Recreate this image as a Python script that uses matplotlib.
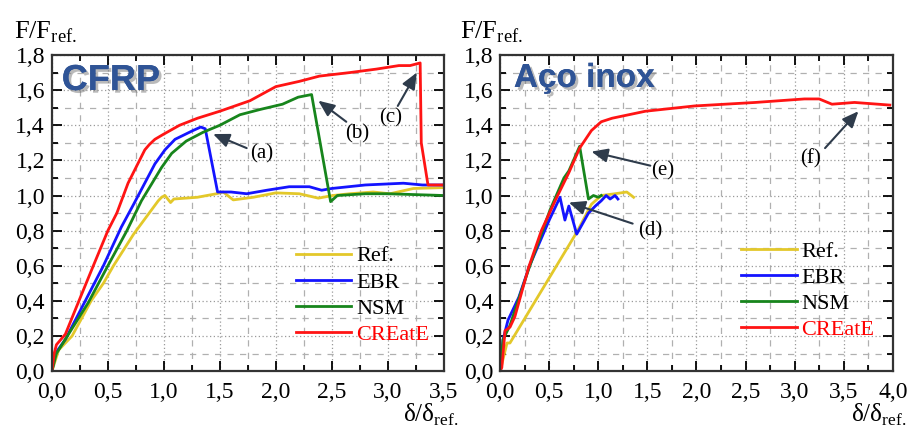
import matplotlib
matplotlib.use("Agg")
import matplotlib.pyplot as plt
import matplotlib.patheffects as pe
from matplotlib.ticker import MultipleLocator, FuncFormatter

plt.rcParams['font.family'] = ['Liberation Serif', 'DejaVu Serif']
plt.rcParams['mathtext.fontset'] = 'custom'
plt.rcParams['mathtext.rm'] = 'Liberation Serif'

# --- CFRP panel ---
cfrp_ref_x = [0, 0.06, 0.18, 0.35, 0.46, 0.55, 0.73, 0.95, 0.98, 1.01, 1.06, 1.09, 1.3, 1.47,
              1.53, 1.62, 1.8, 2.0, 2.21, 2.38, 2.51, 2.66, 2.87, 3.02, 3.23, 3.5]
cfrp_ref_y = [0, 0.12, 0.2, 0.4, 0.5, 0.6, 0.78, 0.97, 0.99, 1.0, 0.96, 0.98, 0.99, 1.01,
              1.02, 0.975, 0.99, 1.015, 1.01, 0.985, 1.0, 1.01, 1.02, 1.01, 1.04, 1.045]

cfrp_ebr_x = [0, 0.03, 0.12, 0.29, 0.46, 0.62, 0.73, 0.92, 1.01, 1.1, 1.26, 1.33, 1.37, 1.48,
              1.6, 1.74, 1.92, 2.12, 2.3, 2.41, 2.5, 2.8, 3.14, 3.31, 3.5]
cfrp_ebr_y = [0, 0.1, 0.18, 0.39, 0.6, 0.82, 0.95, 1.18, 1.26, 1.32, 1.37, 1.39, 1.38, 1.02,
              1.02, 1.01, 1.03, 1.05, 1.05, 1.03, 1.04, 1.06, 1.07, 1.06, 1.06]

cfrp_nsm_x = [0, 0.04, 0.325, 0.5, 0.67, 0.8, 0.98, 1.07, 1.2, 1.35, 1.5, 1.68, 1.86, 2.06,
              2.2, 2.32, 2.49, 2.55, 2.8, 3.0, 3.5]
cfrp_nsm_y = [0, 0.1, 0.39, 0.6, 0.8, 0.97, 1.16, 1.24, 1.31, 1.36, 1.4, 1.46, 1.49, 1.52,
              1.56, 1.575, 0.965, 1.0, 1.01, 1.01, 1.0]

cfrp_create_x = [0, 0.02, 0.04, 0.12, 0.235, 0.37, 0.5, 0.58, 0.68, 0.83, 0.87, 0.92, 1.0, 1.14, 1.3, 1.5,
                 1.77, 2.0, 2.21, 2.39, 2.66, 2.9, 3.1, 3.2, 3.29, 3.30, 3.36, 3.5]
cfrp_create_y = [0, 0.1, 0.15, 0.21, 0.39, 0.6, 0.8, 0.9, 1.07, 1.26, 1.29, 1.32, 1.35, 1.4, 1.44, 1.48,
                 1.54, 1.62, 1.65, 1.68, 1.70, 1.72, 1.74, 1.74, 1.755, 1.30, 1.06, 1.06]

# --- Aço inox panel ---
inox_ref_x = [0, 0.07, 0.1, 0.78, 0.93, 1.03, 1.17, 1.29, 1.36]
inox_ref_y = [0, 0.16, 0.16, 0.79, 0.95, 1.0, 1.01, 1.02, 0.99]

inox_ebr_x = [0, 0.03, 0.08, 0.19, 0.3, 0.5, 0.61, 0.66, 0.70, 0.78, 0.90, 0.97, 1.03, 1.08, 1.12, 1.17, 1.2]
inox_ebr_y = [0, 0.18, 0.29, 0.42, 0.6, 0.86, 0.99, 0.86, 0.94, 0.78, 0.90, 0.94, 0.97, 1.0, 0.98, 1.0, 0.98]

inox_nsm_x = [0, 0.03, 0.1, 0.29, 0.51, 0.65, 0.70, 0.81, 0.90, 0.95, 1.0, 1.03]
inox_nsm_y = [0, 0.18, 0.26, 0.58, 0.92, 1.1, 1.14, 1.28, 0.98, 1.0, 0.99, 1.0]

inox_create_x = [0, 0.017, 0.05, 0.10, 0.15, 0.29, 0.42, 0.56, 0.70, 0.81, 0.93, 1.03, 1.14, 1.31, 1.48,
                 1.98, 2.6, 3.1, 3.25, 3.38, 3.61, 3.97]
inox_create_y = [0, 0.02, 0.23, 0.25, 0.31, 0.59, 0.80, 0.97, 1.13, 1.27, 1.37, 1.42, 1.44, 1.46, 1.48,
                 1.51, 1.53, 1.55, 1.55, 1.52, 1.53, 1.515]

labels = ['Ref.', 'EBR', 'NSM', 'CREatE']
colors = ['#e3c82a', '#1414ff', '#17851c', '#ff1414']

# annotation: label, text position, arrow tail, arrow head
cfrp_notes = [('(a)', (1.87, 1.24), (1.74, 1.27), (1.44, 1.35)),
              ('(b)', (2.73, 1.35), (2.63, 1.42), (2.38, 1.54)),
              ('(c)', (3.03, 1.44), (3.09, 1.51), (3.26, 1.70))]
inox_notes = [('(d)', (1.53, 0.80), (1.35, 0.84), (0.70, 0.96)),
              ('(e)', (1.66, 1.14), (1.53, 1.17), (0.93, 1.25)),
              ('(f)', (3.16, 1.21), (3.31, 1.27), (3.65, 1.48))]

arrow_col = '#2e3b4b'
title_col = '#2f5496'


def comma(v, pos):
    return f"{v:.1f}".replace('.', ',')


def style_axes(ax, xmax):
    ax.set_xlim(0, xmax)
    ax.set_ylim(0, 1.8)
    ax.xaxis.set_major_locator(MultipleLocator(0.5))
    ax.xaxis.set_minor_locator(MultipleLocator(0.25))
    ax.yaxis.set_major_locator(MultipleLocator(0.2))
    ax.yaxis.set_minor_locator(MultipleLocator(0.1))
    ax.xaxis.set_major_formatter(FuncFormatter(comma))
    ax.yaxis.set_major_formatter(FuncFormatter(comma))
    ax.grid(which='major', linestyle=(0, (1, 2)), color='#9a9a9a', lw=0.9)
    ax.grid(which='minor', linestyle=(0, (5, 5)), color='#b0b0b0', lw=0.9)
    ax.tick_params(which='both', direction='in', top=True, right=True, labelsize=17, width=1.3)
    ax.tick_params(which='major', length=7)
    ax.tick_params(which='minor', length=4)
    ax.tick_params(axis='x', pad=8)
    ax.tick_params(axis='y', pad=5)
    for s in ax.spines.values():
        s.set_linewidth(1.6)
        s.set_color('#333333')


def add_legend(ax, anchor):
    leg = ax.legend(loc='lower right', bbox_to_anchor=anchor, frameon=False, fontsize=16,
                    handlelength=2.5, handletextpad=0.2, labelspacing=0.25, borderaxespad=0)
    leg.get_texts()[3].set_color('red')


def add_notes(ax, notes):
    for txt, pos, tail, head in notes:
        ax.text(pos[0], pos[1], txt, fontsize=15, ha='center', va='center')
        ax.annotate('', xy=head, xytext=tail,
                    arrowprops=dict(arrowstyle='-|>,head_length=0.7,head_width=0.3', color=arrow_col,
                                    lw=1.5, mutation_scale=14, shrinkA=0, shrinkB=0))


fig = plt.figure(figsize=(9.11, 4.30), dpi=100)
ax1 = fig.add_axes([0.057, 0.137, 0.430, 0.735])
ax2 = fig.add_axes([0.549, 0.137, 0.431, 0.735])

for xs, ys, lab, c in zip([cfrp_ref_x, cfrp_ebr_x, cfrp_nsm_x, cfrp_create_x],
                          [cfrp_ref_y, cfrp_ebr_y, cfrp_nsm_y, cfrp_create_y], labels, colors):
    ax1.plot(xs, ys, color=c, lw=2, label=lab)

for xs, ys, lab, c in zip([inox_ref_x, inox_ebr_x, inox_nsm_x, inox_create_x],
                          [inox_ref_y, inox_ebr_y, inox_nsm_y, inox_create_y], labels, colors):
    ax2.plot(xs, ys, color=c, lw=2, label=lab)

style_axes(ax1, 3.5)
style_axes(ax2, 4.0)
add_legend(ax1, (0.985, 0.055))
add_legend(ax2, (0.975, 0.07))
add_notes(ax1, cfrp_notes)
add_notes(ax2, inox_notes)

shadow = [pe.withSimplePatchShadow(offset=(2, -2), shadow_rgbFace='#777777', alpha=0.5), pe.Normal()]
ax1.text(0.025, 0.975, 'CFRP', transform=ax1.transAxes, fontsize=26, fontweight='bold',
         family=['Liberation Sans', 'DejaVu Sans'], color=title_col, va='top', ha='left',
         path_effects=shadow)
ax2.text(0.035, 0.975, 'Aço inox', transform=ax2.transAxes, fontsize=24, fontweight='bold',
         family=['Liberation Sans', 'DejaVu Sans'], color=title_col, va='top', ha='left',
         path_effects=shadow)

ylab = r'$\mathrm{F/F}_{\mathrm{ref.}}$'
xlab = r'$\mathrm{\delta/\delta}_{\mathrm{ref.}}$'
fig.text(0.015, 0.895, ylab, fontsize=19, ha='left', va='bottom')
fig.text(0.505, 0.895, ylab, fontsize=19, ha='left', va='bottom')
fig.text(0.503, 0.005, xlab, fontsize=18, ha='right', va='bottom')
fig.text(0.995, 0.005, xlab, fontsize=18, ha='right', va='bottom')

fig.savefig('out.png', dpi=100)
